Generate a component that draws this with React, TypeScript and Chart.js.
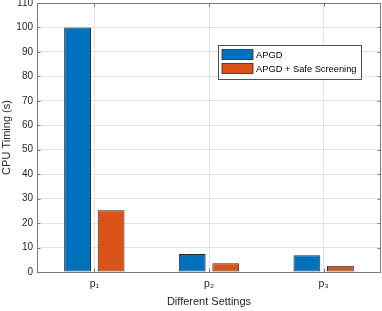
import React, { useEffect, useRef } from "react";
import { Chart, registerables } from "chart.js";

Chart.register(...registerables);

const categories = ["p₁", "p₂", "p₃"];
const seriesNames = ["APGD", "APGD + Safe Screening"];
const apgd = [100, 7.4, 6.8];
const apgdSafe = [25.2, 3.6, 2.6];
const yTicks = [0, 10, 20, 30, 40, 50, 60, 70, 80, 90, 100, 110];

const BLUE = "#0072BD";
const ORANGE = "#D95319";
const EDGE = "#2a2a2a";
const AXIS = "#262626";
const FONT = "'Liberation Sans', Arial, Helvetica, sans-serif";

const framePlugin = {
  id: "matlabFrame",
  afterDatasetsDraw(chart: any) {
    const { ctx, chartArea } = chart;
    const { left, right, top, bottom } = chartArea;
    const xs = chart.scales.x;
    const ys = chart.scales.y;
    const tl = 3.5;
    ctx.save();
    ctx.strokeStyle = "#7a7a7a";
    ctx.lineWidth = 1;
    ctx.beginPath();
    ctx.rect(Math.round(left) + 0.5, Math.round(top) + 0.5, Math.round(right - left) - 1, Math.round(bottom - top));
    ctx.stroke();
    ctx.beginPath();
    for (let i = 0; i < categories.length; i++) {
      const x = Math.round(xs.getPixelForTick(i)) + 0.5;
      ctx.moveTo(x, bottom);
      ctx.lineTo(x, bottom - tl);
      ctx.moveTo(x, top);
      ctx.lineTo(x, top + tl);
    }
    yTicks.forEach((v) => {
      const y = Math.round(ys.getPixelForValue(v)) + 0.5;
      ctx.moveTo(left, y);
      ctx.lineTo(left + tl, y);
      ctx.moveTo(right, y);
      ctx.lineTo(right - tl, y);
    });
    ctx.stroke();

    // legend
    const lx = 218.5, ly = 45.5, lw = 143, lh = 34;
    ctx.fillStyle = "#ffffff";
    ctx.fillRect(lx, ly, lw, lh);
    ctx.strokeStyle = "#262626";
    ctx.lineWidth = 0.8;
    ctx.strokeRect(lx, ly, lw, lh);
    const colors = [BLUE, ORANGE];
    ctx.font = `9.3px ${FONT}`;
    ctx.textBaseline = "middle";
    ctx.textAlign = "left";
    seriesNames.forEach((name, i) => {
      const py = 49.5 + i * 14;
      ctx.fillStyle = colors[i];
      ctx.fillRect(222, py, 31, 10);
      ctx.strokeStyle = EDGE;
      ctx.lineWidth = 0.8;
      ctx.strokeRect(222, py, 31, 10);
      ctx.fillStyle = "#000000";
      ctx.fillText(name, 256, py + 5.5);
    });
    ctx.restore();
  },
};

export default function App() {
  const ref = useRef<HTMLCanvasElement | null>(null);
  useEffect(() => {
    document.body.style.margin = "0";
    const canvas = ref.current;
    if (!canvas) return;
    const barOpts = {
      borderColor: EDGE,
      borderWidth: 1,
      borderSkipped: false,
      inflateAmount: 0,
      categoryPercentage: 0.585,
      barPercentage: 0.8,
    };
    const chart = new Chart(canvas, {
      type: "bar",
      data: {
        labels: categories,
        datasets: [
          { label: seriesNames[0], data: apgd, backgroundColor: BLUE, ...barOpts },
          { label: seriesNames[1], data: apgdSafe, backgroundColor: ORANGE, ...barOpts },
        ],
      },
      options: {
        responsive: false,
        animation: false,
        devicePixelRatio: 1,
        layout: { padding: { top: 3, right: 1, left: 0, bottom: 0 } },
        plugins: {
          legend: { display: false },
          tooltip: { enabled: false },
        },
        scales: {
          x: {
            offset: true,
            border: { display: false },
            grid: { offset: false, color: "#e3e3e3", drawTicks: false },
            ticks: {
              color: AXIS,
              font: { family: FONT, size: 10.5 },
              padding: 6,
              maxRotation: 0,
            },
            title: {
              display: true,
              text: "Different Settings",
              color: AXIS,
              font: { family: FONT, size: 11 },
              padding: { top: 0, bottom: 2.4 },
            },
            afterFit: (s: any) => {
              s.height = 39;
              s.paddingLeft = 0;
              s.paddingRight = 0;
            },
          },
          y: {
            min: 0,
            max: 110,
            border: { display: false },
            grid: { color: "#e3e3e3", drawTicks: false },
            ticks: {
              stepSize: 10,
              color: AXIS,
              font: { family: FONT, size: 10 },
              padding: 4,
            },
            afterBuildTicks: (s: any) => {
              s.ticks = yTicks.map((v) => ({ value: v }));
            },
            title: {
              display: true,
              text: "CPU Timing (s)",
              color: AXIS,
              font: { family: FONT, size: 11 },
              padding: { top: 0, bottom: 0 },
            },
            afterFit: (s: any) => {
              s.width = 37;
              s.paddingTop = 0;
              s.paddingBottom = 0;
            },
          },
        },
      },
      plugins: [framePlugin],
    });
    return () => chart.destroy();
  }, []);
  return <canvas ref={ref} width={382} height={311} style={{ display: "block" }} />;
}
